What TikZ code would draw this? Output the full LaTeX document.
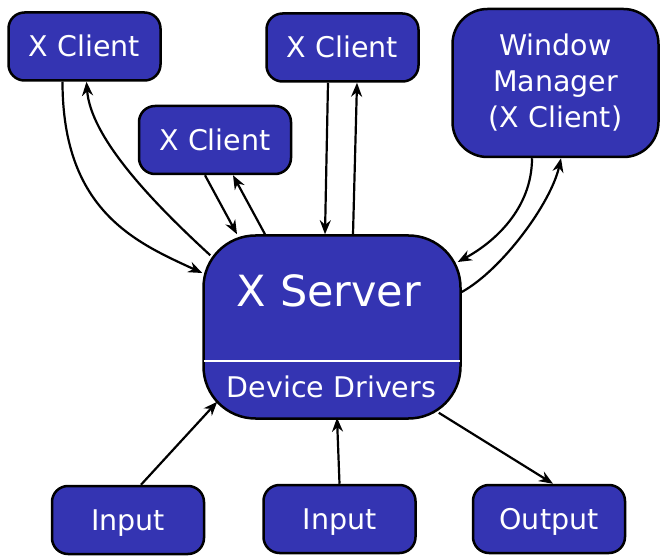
\documentclass[tikz,border=0pt]{standalone}
\usepackage{fontspec}
\setmainfont{DejaVu Sans}
\usetikzlibrary{arrows.meta}
\definecolor{boxblue}{HTML}{3434B2}
\tikzset{
  box/.style={draw=black, line width=2.5pt, fill=boxblue, text=white, rounded corners=16pt,
    inner sep=0pt, minimum width=152pt, minimum height=68pt,
    font=\fontsize{28.5}{36}\selectfont, text height=21pt, text depth=0pt},
  conn/.style={line width=2.2pt, -{Stealth[length=14pt,width=11pt]}},
}
\begin{document}
\begin{tikzpicture}[x=1pt,y=-1pt]
\useasboundingbox (0,0) rectangle (662,556);
\node[box] (c1) at (84.5,46.5) {X Client};
\node[box] (c2) at (215,140) {X Client};
\node[box] (c3) at (342.5,47.5) {X Client};
\node[box, rounded corners=35pt, minimum width=206pt, minimum height=148pt, align=center,
  text height=, text depth=] (wm) at (555.5,83) {Window\\Manager\\(X Client)};
\node[box, rounded corners=52pt, minimum width=257pt, minimum height=183pt, text height=, text depth=] (srv) at (332,327) {};
\node[text=white, font=\fontsize{43}{50}\selectfont, inner sep=0pt] (srvlabel) at (329,291) {X Server};
\node[text=white, font=\fontsize{28.5}{36}\selectfont, inner sep=0pt, anchor=base] (ddlabel) at (331.5,398) {Device Drivers};
\draw[white, line width=2pt] ([xshift=1.5pt,yshift=59pt]srv.south west) -- ([xshift=-1.5pt,yshift=59pt]srv.south east);
\node[box] (in1) at (128,520) {Input};
\node[box] (in2) at (339.5,519) {Input};
\node[box] (out) at (549,519) {Output};
% client 1
\draw[conn] ([xshift=-22pt]c1.south) .. controls +(0,130) and +(-65,-30) .. ([yshift=54pt]srv.west);
\draw[conn] ([xshift=8pt,yshift=-21pt]srv.north west) .. controls +(-60,-55) and +(4,55) .. ([xshift=2pt]c1.south);
% client 2
\draw[conn] ([xshift=-10pt]c2.south) -- ([xshift=-95pt]srv.north);
\draw[conn] ([xshift=-67pt]srv.north) -- ([xshift=18pt]c2.south);
% client 3
\draw[conn] ([xshift=-14.5pt]c3.south) -- ([xshift=-7pt]srv.north);
\draw[conn] ([xshift=21pt]srv.north) -- ([xshift=14.5pt]c3.south);
% window manager
\draw[conn] ([xshift=-23.5pt]wm.south) .. controls +(0,50) and +(37,-20) .. ([xshift=-4pt,yshift=65pt]srv.east);
\draw[conn] ([yshift=35pt]srv.east) .. controls +(40,-22) and +(-10,45) .. ([xshift=5.5pt]wm.south);
% inputs / output
\draw[conn] ([xshift=13pt]in1.north) -- ([xshift=15pt,yshift=18pt]srv.south west);
\draw[conn] (in2.north) -- ([xshift=5pt,yshift=2pt]srv.south);
\draw[conn] ([xshift=-23pt,yshift=7pt]srv.south east) -- ([xshift=4pt]out.north);
\end{tikzpicture}
\end{document}
